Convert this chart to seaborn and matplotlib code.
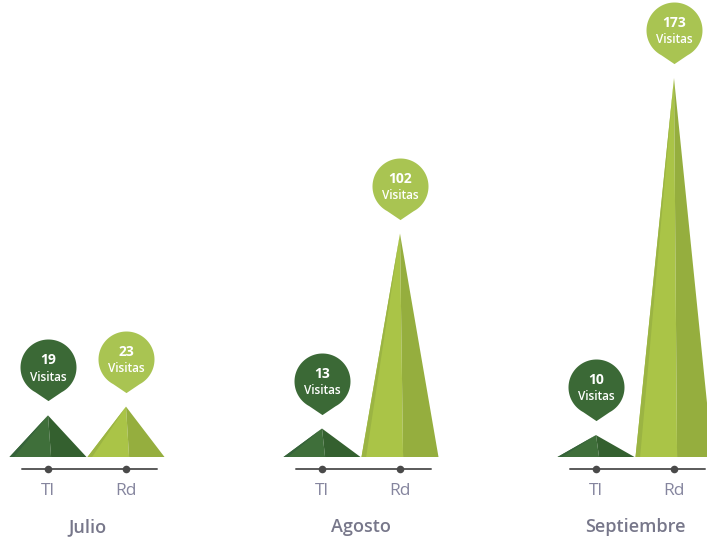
import numpy as np
import pandas as pd
import matplotlib
matplotlib.use("Agg")
import matplotlib.pyplot as plt
import seaborn as sns
from matplotlib.path import Path

# ---- data ----
months = ["Julio", "Agosto", "Septiembre"]
series = ["Tl", "Rd"]
tl_values = [19, 13, 10]
rd_values = [23, 102, 173]
unit_label = "Visitas"

sns.set_theme(style="white")
plt.rcParams['font.family'] = ['Open Sans', 'DejaVu Sans']

W, H = 707, 543
GAP = 274.0      # px between month groups
PXY = 2.19       # px per visit
X0 = 87.0        # px of first group centre
BASE = 457.0     # px of the zero line
OFF = 39.0 / GAP # series offset inside a group
HW = 38.5 / GAP  # half width of each triangle

fig = plt.figure(figsize=(W / 100, H / 100), dpi=100)
ax = fig.add_axes([0, 0, 1, 1])
ax.set_xlim(-X0 / GAP, (W - X0) / GAP)
ax.set_ylim(-(H - BASE) / PXY, BASE / PXY)
ax.axis('off')

def py(pix):
    return (BASE - pix) / PXY

rows = []
for g, m in enumerate(months):
    rows.append(dict(month=m, serie="Tl", x=g - OFF, v=tl_values[g]))
    rows.append(dict(month=m, serie="Rd", x=g + OFF, v=rd_values[g]))
df = pd.DataFrame(rows)

face = {"Tl": ("#3f6f3a", "#34602f"), "Rd": ("#aac447", "#95ae3e")}
edge = {"Tl": "#36633a", "Rd": "#9bb443"}
balloon = {"Tl": "#3b6936", "Rd": "#a9c452"}

# pyramids
for _, r in df.iterrows():
    x, v = r.x, r.v
    left, right = face[r.serie]
    ridge = x + 0.08 * HW
    ax.fill([x - HW, x, ridge], [0, v, 0], color=left, lw=0, zorder=2)
    ax.fill([ridge, x, x + HW], [0, v, 0], color=right, lw=0, zorder=2)
    strip = x - 0.88 * HW
    ax.fill([x - HW, x, strip], [0, v, 0], color=edge[r.serie], lw=0, zorder=2)

# baselines with dots
line_rows = []
for g, m in enumerate(months):
    line_rows.append(dict(month=m, x=g - OFF - 26 / GAP, y=py(469)))
    line_rows.append(dict(month=m, x=g + OFF + 31 / GAP, y=py(469)))
ldf = pd.DataFrame(line_rows)
for m in months:
    sns.lineplot(data=ldf[ldf.month == m], x="x", y="y", color="#5a5a5a",
                 lw=1.4, ax=ax, zorder=3, legend=False)
dots = df.assign(y=py(469))
sns.scatterplot(data=dots, x="x", y="y", color="#4a4a4a", s=30,
                linewidth=0, ax=ax, zorder=4, legend=False)

# balloon marker (circle with pointer)
th = np.linspace(np.radians(-62), np.radians(242), 80)
verts = np.column_stack([np.cos(th), np.sin(th)])
verts = np.vstack([verts, [[0, -1.2]], verts[:1]])
codes = [Path.MOVETO] + [Path.LINETO] * (len(verts) - 2) + [Path.CLOSEPOLY]
bpath = Path(verts, codes)

r_pt = 28 * 0.72
msize = (2 * 1.2 * r_pt) ** 2
bal = df.assign(by=df.v + 48 / PXY)
for s in series:
    sub = bal[bal.serie == s]
    sns.scatterplot(data=sub, x="x", y="by", marker=bpath, s=msize,
                    color=balloon[s], linewidth=0, ax=ax, zorder=5, legend=False)
for _, r in bal.iterrows():
    ax.annotate(str(r.v), (r.x, r.by), xytext=(0, 5), textcoords="offset points",
                ha="center", va="center", color="white", fontsize=10,
                fontweight="bold", zorder=6)
    ax.annotate(unit_label, (r.x, r.by), xytext=(0, -7), textcoords="offset points",
                ha="center", va="center", color="white", fontsize=8.5,
                fontweight="semibold", zorder=6)

# series labels and month labels
for _, r in df.iterrows():
    ax.text(r.x, py(491), r.serie, ha="center", va="center", color="#85859e",
            fontsize=12.5, fontweight="normal")
for g, m in enumerate(months):
    ax.text(g, py(527), m, ha="center", va="center", color="#77778a",
            fontsize=13, fontweight="semibold")

fig.savefig("out.png", dpi=100, facecolor="white")
